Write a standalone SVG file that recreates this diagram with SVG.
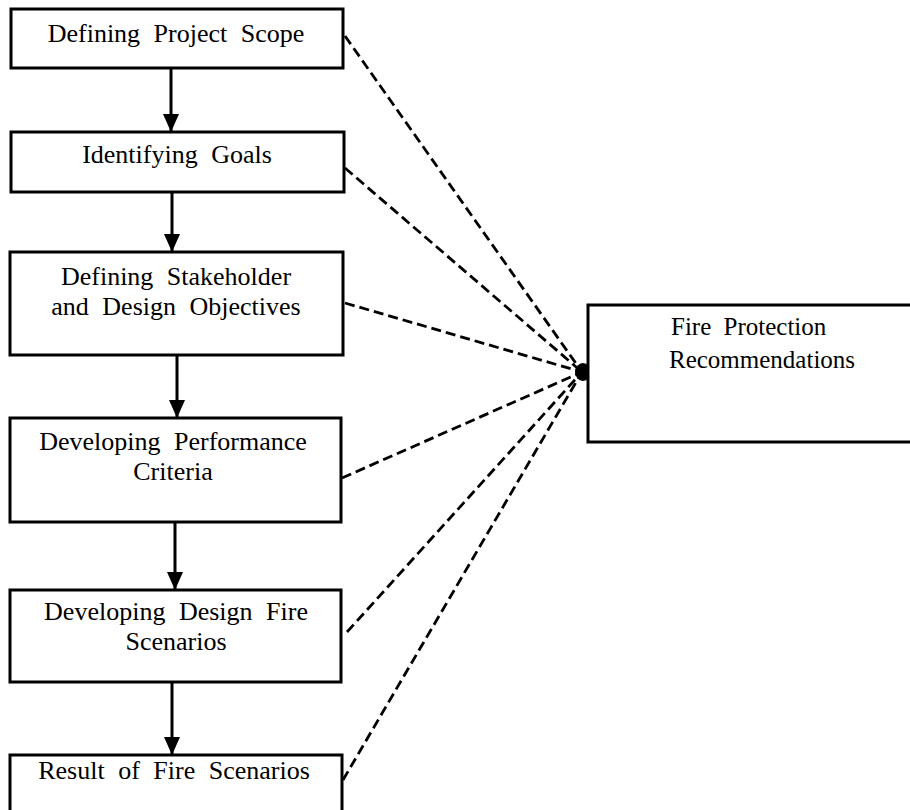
<svg xmlns="http://www.w3.org/2000/svg" width="910" height="810" viewBox="0 0 910 810">
<style>
.box{fill:#fff;stroke:#000;stroke-width:3}
.t{font-family:"Liberation Serif","Times New Roman",serif;font-size:26px;word-spacing:7px;fill:#000;text-anchor:middle}
.r{font-family:"Liberation Serif","Times New Roman",serif;font-size:25px;word-spacing:6px;fill:#000;text-anchor:start}
.arr{stroke:#000;stroke-width:3;fill:none}
.dash{stroke:#000;stroke-width:2.8;fill:none;stroke-dasharray:10 5}
</style>
<defs>
<marker id="ah2" markerUnits="userSpaceOnUse" markerWidth="18" markerHeight="16" viewBox="0 0 18 16" refX="18" refY="8" orient="auto">
<path d="M0,0 L18,8 L0,16 Z" fill="#000"/>
</marker>
</defs>
<g id="connectors">
<line class="arr" x1="171" y1="68" x2="171" y2="132" marker-end="url(#ah2)"/>
<line class="arr" x1="172" y1="192" x2="172" y2="252" marker-end="url(#ah2)"/>
<line class="arr" x1="177" y1="355" x2="177" y2="418" marker-end="url(#ah2)"/>
<line class="arr" x1="175" y1="522" x2="175" y2="590" marker-end="url(#ah2)"/>
<line class="arr" x1="172" y1="682" x2="172" y2="755" marker-end="url(#ah2)"/>
<line class="dash" x1="345" y1="36" x2="582" y2="372"/>
<line class="dash" x1="345" y1="168" x2="582" y2="372"/>
<line class="dash" x1="345" y1="303" x2="582" y2="372"/>
<line class="dash" x1="342" y1="478" x2="582" y2="372"/>
<line class="dash" x1="347" y1="632" x2="582" y2="372"/>
<line class="dash" x1="343" y1="780" x2="582" y2="372"/>
<ellipse cx="583" cy="372" rx="8" ry="9" fill="#000"/>
</g>
<g id="n1"><rect class="box" x="11" y="9" width="332" height="59"/><text class="t" x="176" y="42">Defining Project Scope</text></g>
<g id="n2"><rect class="box" x="11" y="132" width="333" height="60"/><text class="t" x="177" y="163">Identifying Goals</text></g>
<g id="n3"><rect class="box" x="10" y="252" width="333" height="103"/><text class="t" x="176" y="285">Defining Stakeholder</text><text class="t" x="176" y="315">and Design Objectives</text></g>
<g id="n4"><rect class="box" x="10" y="418" width="331" height="104"/><text class="t" x="173" y="450">Developing Performance</text><text class="t" x="173" y="480">Criteria</text></g>
<g id="n5"><rect class="box" x="10" y="590" width="331" height="92"/><text class="t" x="176" y="620">Developing Design Fire</text><text class="t" x="176" y="650">Scenarios</text></g>
<g id="n6"><rect class="box" x="10" y="755" width="332" height="70"/><text class="t" x="174" y="779">Result of Fire Scenarios</text></g>
<g id="n7"><rect class="box" x="588" y="305" width="340" height="137"/><text class="r" x="671" y="335">Fire Protection</text><text class="r" x="669" y="368">Recommendations</text></g>
</svg>
